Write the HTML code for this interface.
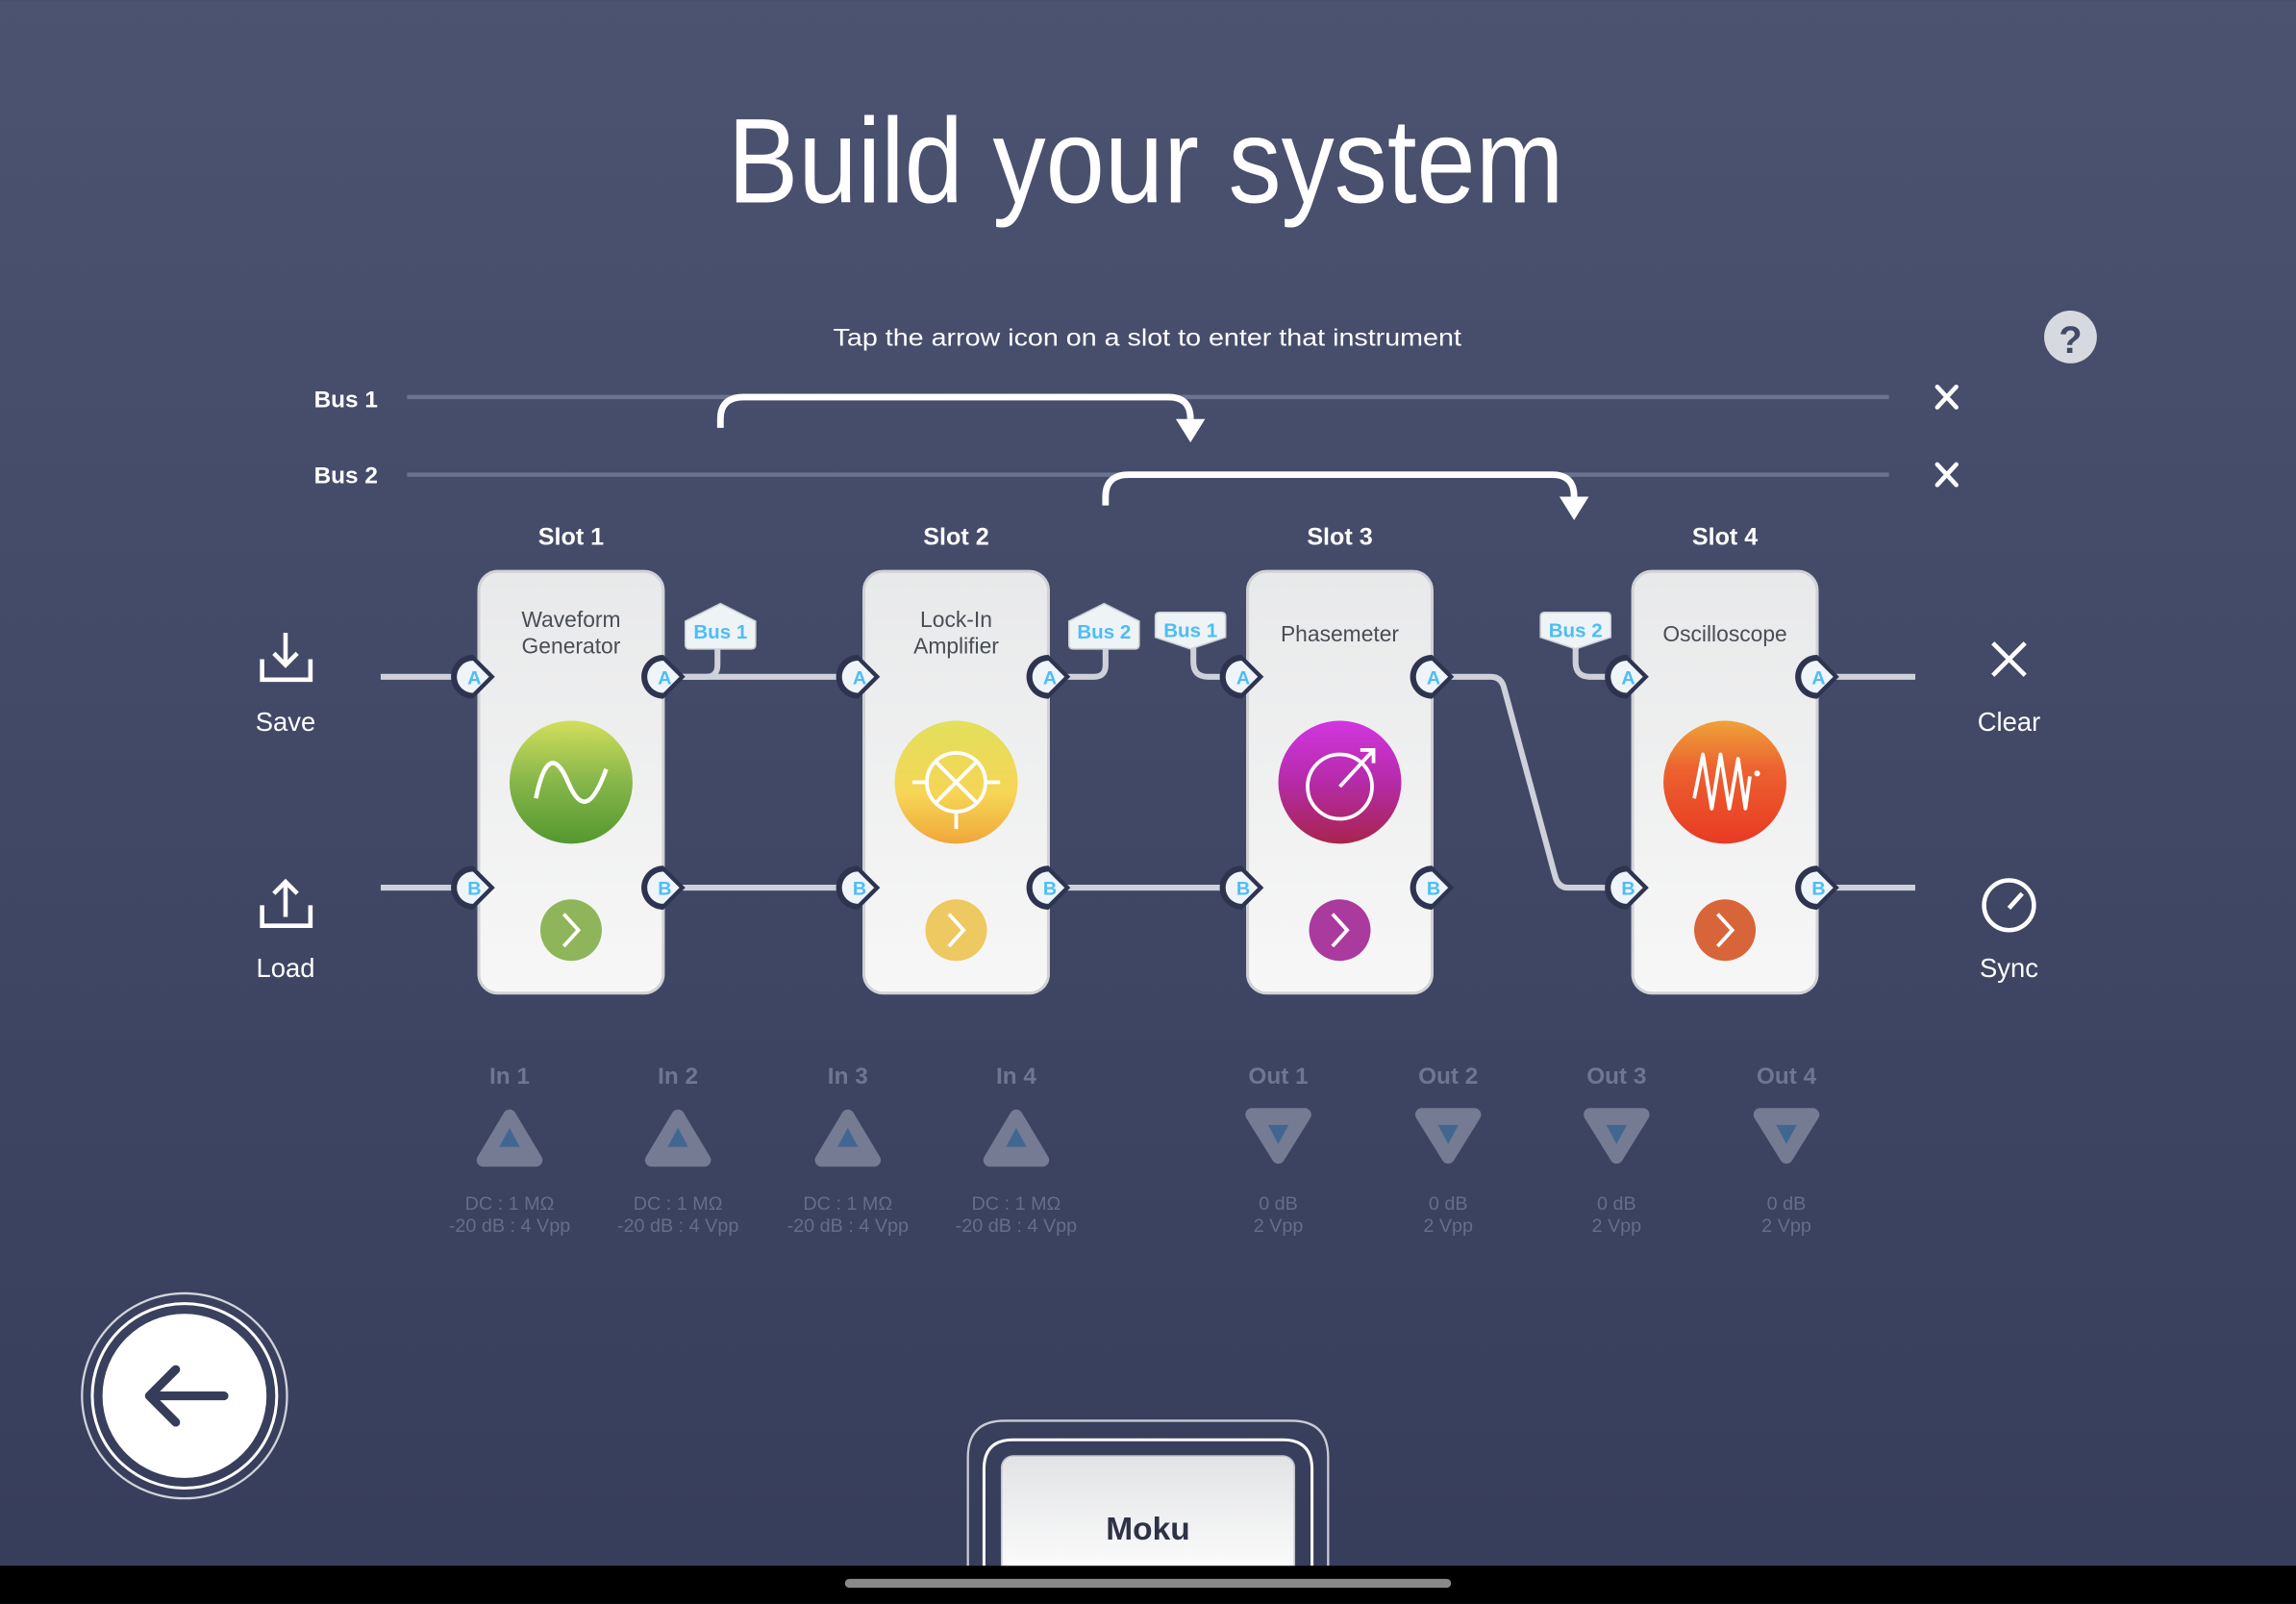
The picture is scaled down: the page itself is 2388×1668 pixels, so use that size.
<!DOCTYPE html>
<html><head><meta charset="utf-8"><style>
html,body{margin:0;padding:0;background:#3a4160;}
svg{display:block}
text{font-family:"Liberation Sans",sans-serif}
</style></head><body>
<svg width="2388" height="1668" viewBox="0 0 1568 1095" xmlns="http://www.w3.org/2000/svg">
<defs>
<linearGradient id="bg" x1="0" y1="0" x2="0" y2="1"><stop offset="0" stop-color="#4b5371"/><stop offset="1" stop-color="#363d5a"/></linearGradient>
<linearGradient id="card" x1="0" y1="0" x2="0" y2="1"><stop offset="0" stop-color="#e8e9ea"/><stop offset="1" stop-color="#f7f7f7"/></linearGradient>
<linearGradient id="g1" x1="0" y1="0" x2="0" y2="1"><stop offset="0" stop-color="#d2de5c"/><stop offset="0.5" stop-color="#86b64a"/><stop offset="1" stop-color="#54982f"/></linearGradient>
<linearGradient id="g2" x1="0" y1="0" x2="0" y2="1"><stop offset="0" stop-color="#e2e05c"/><stop offset="0.6" stop-color="#f6d555"/><stop offset="1" stop-color="#f0a63a"/></linearGradient>
<linearGradient id="g3" x1="0" y1="0" x2="0" y2="1"><stop offset="0" stop-color="#d235e0"/><stop offset="0.5" stop-color="#b52ba8"/><stop offset="1" stop-color="#a8244d"/></linearGradient>
<linearGradient id="g4" x1="0" y1="0" x2="0" y2="1"><stop offset="0" stop-color="#efa23a"/><stop offset="0.4" stop-color="#ec612f"/><stop offset="1" stop-color="#e83a24"/></linearGradient>
<linearGradient id="moku" x1="0" y1="0" x2="0" y2="1"><stop offset="0" stop-color="#e2e3e5"/><stop offset="1" stop-color="#ffffff"/></linearGradient>
<g id="port"><path d="M0,-15 a15,15 0 1 0 0,30 l15,-15 z" fill="#2e3450"/><path d="M0,-11 a11,11 0 1 0 0,22 l11,-11 z" fill="#eef4f8"/></g>
</defs>
<rect width="1568" height="1095" fill="url(#bg)"/>
<text x="497" y="138" font-size="82" fill="#fff" textLength="571" lengthAdjust="spacingAndGlyphs">Build your system</text>
<text x="569" y="236" font-size="16.5" fill="#fff" textLength="429" lengthAdjust="spacingAndGlyphs">Tap the arrow icon on a slot to enter that instrument</text>
<circle cx="1414" cy="230" r="18" fill="#d7d9e0"/>
<text x="1414" y="241" text-anchor="middle" font-size="26" font-weight="bold" fill="#434a66">?</text>
<text x="258" y="278" text-anchor="end" font-size="16" font-weight="bold" fill="#fff">Bus 1</text>
<text x="258" y="330" text-anchor="end" font-size="16" font-weight="bold" fill="#fff">Bus 2</text>
<line x1="278" y1="271" x2="1290" y2="271" stroke="#6b7391" stroke-width="3"/>
<line x1="278" y1="324" x2="1290" y2="324" stroke="#6b7391" stroke-width="3"/>
<g stroke="#fff" stroke-width="3" stroke-linecap="round"><path d="M1323,264 l13,14 M1336,264 l-13,14 M1323,317 l13,14 M1336,317 l-13,14"/></g>
<g fill="none" stroke="#fff" stroke-width="4.5"><path d="M492,292 v-6 q0,-15 16,-15 h290 q15,0 15,15 v0"/><path d="M755,345 v-6 q0,-15 16,-15 h289 q15,0 15,15 v0"/></g>
<path d="M803,286 h20 l-10,16z M1065,339 h20 l-10,16z" fill="#fff"/>
<!-- wires -->
<g fill="none" stroke="#cfd1da" stroke-width="4">
<path d="M260,462 H323 M453,462 H590 M453,606 H590 M260,606 H323 M716,606 H852 M1241,462 H1308 M1241,606 H1308"/>
<path d="M979,462 H1018 q7,0 9,7 L1062,598 q2,8 9,8 H1111"/>
<path d="M490,443 v11 q0,8 -8,8 h-20 M755,443 v11 q0,8 -8,8 h-20 M815,441 v11 q0,10 10,10 h24 M1076,441 v11 q0,10 10,10 h24"/>
</g>
<!-- bus tags -->
<g font-size="13.5" font-weight="bold" fill="#4ebdf5">
<path d="M468,424 l24,-12 l24,12 v16 q0,3 -3,3 h-42 q-3,0 -3,-3z" fill="#eef3f6" stroke="#cbd0d6"/><text x="492" y="436" text-anchor="middle" fill="#4ebdf5">Bus 1</text>
<path d="M730,424 l24,-12 l24,12 v16 q0,3 -3,3 h-42 q-3,0 -3,-3z" fill="#eef3f6" stroke="#cbd0d6"/><text x="754" y="436" text-anchor="middle" fill="#4ebdf5">Bus 2</text>
<path d="M789,421 q0,-3 3,-3 h42 q3,0 3,3 v14 l-24,8 l-24,-8z" fill="#eef3f6" stroke="#cbd0d6"/><text x="813" y="435" text-anchor="middle" fill="#4ebdf5">Bus 1</text>
<path d="M1052,421 q0,-3 3,-3 h42 q3,0 3,3 v14 l-24,8 l-24,-8z" fill="#eef3f6" stroke="#cbd0d6"/><text x="1076" y="435" text-anchor="middle" fill="#4ebdf5">Bus 2</text>
</g>
<!-- slots -->
<g transform="translate(327,0)"><rect x="0" y="390" width="126" height="288" rx="13" fill="url(#card)" stroke="#d0d2d6" stroke-width="2"/></g>
<g transform="translate(590,0)"><rect x="0" y="390" width="126" height="288" rx="13" fill="url(#card)" stroke="#d0d2d6" stroke-width="2"/></g>
<g transform="translate(852,0)"><rect x="0" y="390" width="126" height="288" rx="13" fill="url(#card)" stroke="#d0d2d6" stroke-width="2"/></g>
<g transform="translate(1115,0)"><rect x="0" y="390" width="126" height="288" rx="13" fill="url(#card)" stroke="#d0d2d6" stroke-width="2"/></g>
<!-- ports -->
<g font-size="13" font-weight="bold" fill="#4ebdf5" text-anchor="middle">
<g transform="translate(323,462)"><use href="#port"/><text x="1" y="5">A</text></g>
<g transform="translate(323,606)"><use href="#port"/><text x="1" y="5">B</text></g>
<g transform="translate(453,462)"><use href="#port"/><text x="1" y="5">A</text></g>
<g transform="translate(453,606)"><use href="#port"/><text x="1" y="5">B</text></g>
<g transform="translate(586,462)"><use href="#port"/><text x="1" y="5">A</text></g>
<g transform="translate(586,606)"><use href="#port"/><text x="1" y="5">B</text></g>
<g transform="translate(716,462)"><use href="#port"/><text x="1" y="5">A</text></g>
<g transform="translate(716,606)"><use href="#port"/><text x="1" y="5">B</text></g>
<g transform="translate(848,462)"><use href="#port"/><text x="1" y="5">A</text></g>
<g transform="translate(848,606)"><use href="#port"/><text x="1" y="5">B</text></g>
<g transform="translate(978,462)"><use href="#port"/><text x="1" y="5">A</text></g>
<g transform="translate(978,606)"><use href="#port"/><text x="1" y="5">B</text></g>
<g transform="translate(1111,462)"><use href="#port"/><text x="1" y="5">A</text></g>
<g transform="translate(1111,606)"><use href="#port"/><text x="1" y="5">B</text></g>
<g transform="translate(1241,462)"><use href="#port"/><text x="1" y="5">A</text></g>
<g transform="translate(1241,606)"><use href="#port"/><text x="1" y="5">B</text></g>
</g>
<!-- slot labels -->
<g font-size="16.5" font-weight="bold" fill="#fff" text-anchor="middle">
<text x="390" y="372">Slot 1</text><text x="653" y="372">Slot 2</text><text x="915" y="372">Slot 3</text><text x="1178" y="372">Slot 4</text>
</g>
<g font-size="15" fill="#4a4d55" text-anchor="middle">
<text x="390" y="428">Waveform</text><text x="390" y="446">Generator</text>
<text x="653" y="428">Lock-In</text><text x="653" y="446">Amplifier</text>
<text x="915" y="438">Phasemeter</text>
<text x="1178" y="438">Oscilloscope</text>
</g>
<!-- icons -->
<circle cx="390" cy="534" r="42" fill="url(#g1)"/>
<path d="M366,545 C372,515 380,515 388,534 C396,553 404,553 414,525" fill="none" stroke="#fff" stroke-width="3"/>
<circle cx="653" cy="534" r="42" fill="url(#g2)"/>
<g fill="none" stroke="#fff" stroke-width="2.5"><circle cx="653" cy="534" r="20"/><path d="M639,520 l28,28 M667,520 l-28,28 M623,534 h10 M673,534 h10 M653,554 v12"/></g>
<circle cx="915" cy="534" r="42" fill="url(#g3)"/>
<g fill="none" stroke="#fff" stroke-width="2.5"><circle cx="915" cy="537" r="22"/><path d="M915,537 L938,512 M929,512 h9 v9"/></g>
<circle cx="1178" cy="534" r="42" fill="url(#g4)"/>
<path d="M1157,545 L1163,515 L1169,552 L1175,515 L1181,552 L1187,518 L1192,552 L1195,530" fill="none" stroke="#fff" stroke-width="2.5" stroke-linejoin="round"/>
<circle cx="1200" cy="528" r="2" fill="#fff"/>
<!-- enter buttons -->
<circle cx="390" cy="635" r="21" fill="#8fb55a"/><circle cx="653" cy="635" r="21" fill="#eec860"/><circle cx="915" cy="635" r="21" fill="#aa3a9e"/><circle cx="1178" cy="635" r="21" fill="#d8653a"/>
<g fill="none" stroke="#fff" stroke-width="2.5"><path d="M385,624 l10,11 l-10,11 M648,624 l10,11 l-10,11 M910,624 l10,11 l-10,11 M1173,624 l10,11 l-10,11"/></g>
<!-- side controls -->
<g fill="none" stroke="#fff" stroke-width="3"><path d="M179,450 v14 h33 v-14 M195,432 v22 M187,446 l8,8 l8,-8"/><path d="M179,618 v14 h33 v-14 M195,604 v22 M187,610 l8,-8 l8,8"/></g>
<text x="195" y="499" text-anchor="middle" font-size="18" fill="#fff">Save</text>
<text x="195" y="667" text-anchor="middle" font-size="18" fill="#fff">Load</text>
<path d="M1361,439 l22,22 M1383,439 l-22,22" stroke="#fff" stroke-width="3"/>
<text x="1372" y="499" text-anchor="middle" font-size="18" fill="#fff">Clear</text>
<circle cx="1372" cy="618" r="17" fill="none" stroke="#fff" stroke-width="3"/>
<path d="M1372,620 l9,-10" stroke="#fff" stroke-width="3"/>
<text x="1372" y="667" text-anchor="middle" font-size="18" fill="#fff">Sync</text>
<!-- In/Out -->
<g font-size="16" font-weight="bold" fill="#6f7690" text-anchor="middle">
<text x="348" y="740">In 1</text><text x="463" y="740">In 2</text><text x="579" y="740">In 3</text><text x="694" y="740">In 4</text>
<text x="873" y="740">Out 1</text><text x="989" y="740">Out 2</text><text x="1104" y="740">Out 3</text><text x="1220" y="740">Out 4</text>
</g>
<g>
<path d="M348,762 L366,792 H330 Z" fill="#747b93" stroke="#747b93" stroke-width="9" stroke-linejoin="round"/><path d="M348,770 L355,783 H341 Z" fill="#416791"/>
<path d="M463,762 L481,792 H445 Z" fill="#747b93" stroke="#747b93" stroke-width="9" stroke-linejoin="round"/><path d="M463,770 L470,783 H456 Z" fill="#416791"/>
<path d="M579,762 L597,792 H561 Z" fill="#747b93" stroke="#747b93" stroke-width="9" stroke-linejoin="round"/><path d="M579,770 L586,783 H572 Z" fill="#416791"/>
<path d="M694,762 L712,792 H676 Z" fill="#747b93" stroke="#747b93" stroke-width="9" stroke-linejoin="round"/><path d="M694,770 L701,783 H687 Z" fill="#416791"/>
<path d="M873,790 L891,761 H855 Z" fill="#747b93" stroke="#747b93" stroke-width="9" stroke-linejoin="round"/><path d="M873,781 L880,768 H866 Z" fill="#416791"/>
<path d="M989,790 L1007,761 H971 Z" fill="#747b93" stroke="#747b93" stroke-width="9" stroke-linejoin="round"/><path d="M989,781 L996,768 H982 Z" fill="#416791"/>
<path d="M1104,790 L1122,761 H1086 Z" fill="#747b93" stroke="#747b93" stroke-width="9" stroke-linejoin="round"/><path d="M1104,781 L1111,768 H1097 Z" fill="#416791"/>
<path d="M1220,790 L1238,761 H1202 Z" fill="#747b93" stroke="#747b93" stroke-width="9" stroke-linejoin="round"/><path d="M1220,781 L1227,768 H1213 Z" fill="#416791"/>
</g>
<g font-size="13" fill="#666d86" text-anchor="middle">
<text x="348" y="826">DC : 1 MΩ</text><text x="348" y="841">-20 dB : 4 Vpp</text>
<text x="463" y="826">DC : 1 MΩ</text><text x="463" y="841">-20 dB : 4 Vpp</text>
<text x="579" y="826">DC : 1 MΩ</text><text x="579" y="841">-20 dB : 4 Vpp</text>
<text x="694" y="826">DC : 1 MΩ</text><text x="694" y="841">-20 dB : 4 Vpp</text>
<text x="873" y="826">0 dB</text><text x="873" y="841">2 Vpp</text>
<text x="989" y="826">0 dB</text><text x="989" y="841">2 Vpp</text>
<text x="1104" y="826">0 dB</text><text x="1104" y="841">2 Vpp</text>
<text x="1220" y="826">0 dB</text><text x="1220" y="841">2 Vpp</text>
</g>
<!-- back button -->
<circle cx="126" cy="953" r="70" fill="none" stroke="#d0d3dc" stroke-width="1.5"/>
<circle cx="126" cy="953" r="63" fill="none" stroke="#fff" stroke-width="2"/>
<circle cx="126" cy="953" r="56" fill="#fff"/>
<path d="M153,953 H102 M120,935 l-18,18 l18,18" fill="none" stroke="#363d5a" stroke-width="6" stroke-linecap="round" stroke-linejoin="round"/>
<!-- Moku -->
<path d="M661,1069 V995 q0,-25 25,-25 H882 q25,0 25,25 V1069" fill="none" stroke="#c8cbd4" stroke-width="1.5"/>
<path d="M672,1069 V1003 q0,-20 20,-20 H876 q20,0 20,20 V1069" fill="none" stroke="#fff" stroke-width="2"/>
<rect x="684" y="994" width="200" height="90" rx="8" fill="url(#moku)" stroke="#bfc3cb"/>
<text x="784" y="1051" text-anchor="middle" font-size="22" font-weight="bold" fill="#2e3248">Moku</text>
<rect x="0" y="1069" width="1568" height="26" fill="#000"/>
<rect x="577" y="1078" width="414" height="6" rx="3" fill="#8a8a8a"/>
</svg>
</body></html>
